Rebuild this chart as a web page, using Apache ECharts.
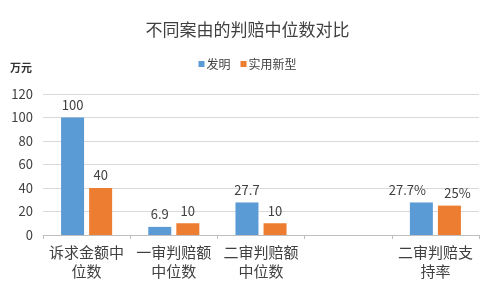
<!DOCTYPE html>
<html>
<head>
<meta charset="utf-8">
<script src="https://cdn.jsdelivr.net/npm/echarts@6/dist/echarts.min.js"></script>
<style>
    html, body { margin: 0; padding: 0; background: #fff; }
    #chart { width: 495px; height: 293px; }
</style>
</head>
<body>
<div id="chart"></div>
<script>
var categories = ['诉求金额中\n位数', '一审判赔额\n中位数', '二审判赔额\n中位数', '', '二审判赔支\n持率'];
var inventValues = [100, 6.9, 27.7, null, 27.7];
var utilityValues = [40, 10, 10, null, 25];
var inventLabels = ['100', '6.9', '27.7', '', '27.7%'];
var utilityLabels = ['40', '10', '10', '', '25%'];
var yTicks = [0, 20, 40, 60, 80, 100, 120];

var fontFamily = '"Noto Sans CJK SC", "Open Sans", sans-serif';
var textColor = '#404040';

// the two percent labels sit apart so they do not touch
var labelShift = { 4: [-14, 8] };

var buildData = function (values, side) {
    return values.map(function (v, i) {
        var item = { value: v };
        if (labelShift[i]) {
            item.label = { offset: [labelShift[i][side], 0] };
        }
        return item;
    });
};

var labelFrom = function (texts) {
    return {
        show: true,
        position: 'top',
        distance: 6,
        color: textColor,
        fontSize: 13,
        fontFamily: fontFamily,
        formatter: function (p) { return texts[p.dataIndex]; }
    };
};

var chart = echarts.init(document.getElementById('chart'));
chart.setOption({
    animation: false,
    title: {
        text: '不同案由的判赔中位数对比',
        left: 'center',
        top: 16,
        textStyle: { fontSize: 17, fontWeight: 'normal', color: textColor, fontFamily: fontFamily }
    },
    legend: {
        top: 53,
        left: 'center',
        itemWidth: 6,
        itemHeight: 6,
        itemGap: 10,
        icon: 'rect',
        textStyle: { fontSize: 12, color: textColor, fontFamily: fontFamily, padding: [0, 0, 0, -3] },
        data: ['发明', '实用新型']
    },
    graphic: [{
        type: 'text',
        left: 10,
        top: 62,
        style: { text: '万元', font: 'bold 11px ' + fontFamily, fill: '#333' }
    }],
    grid: { left: 43, right: 16, top: 94, bottom: 58 },
    xAxis: {
        type: 'category',
        data: categories,
        axisLine: { lineStyle: { color: '#bfbfbf' } },
        axisTick: { show: true, length: 4, lineStyle: { color: '#bfbfbf' } },
        axisLabel: {
            interval: 0,
            color: textColor,
            fontSize: 15,
            lineHeight: 19,
            margin: 8,
            fontFamily: fontFamily
        }
    },
    yAxis: {
        type: 'value',
        min: yTicks[0],
        max: yTicks[yTicks.length - 1],
        interval: 20,
        axisLine: { show: false },
        axisTick: { show: false },
        splitLine: { lineStyle: { color: '#d9d9d9', width: 1 } },
        axisLabel: { color: textColor, fontSize: 13, margin: 10, fontFamily: fontFamily }
    },
    series: [{
        name: '发明',
        type: 'bar',
        data: buildData(inventValues, 0),
        barWidth: 23,
        barGap: '22%',
        itemStyle: { color: '#5B9BD5' },
        label: labelFrom(inventLabels)
    }, {
        name: '实用新型',
        type: 'bar',
        data: buildData(utilityValues, 1),
        barWidth: 23,
        itemStyle: { color: '#ED7D31' },
        label: labelFrom(utilityLabels)
    }]
});
</script>
</body>
</html>
